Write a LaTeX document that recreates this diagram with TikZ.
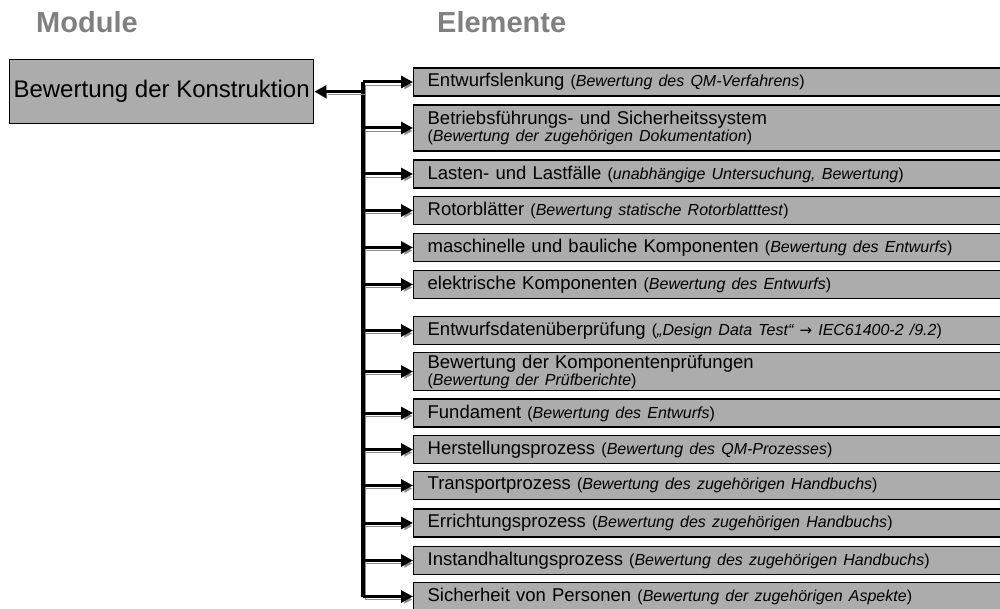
\documentclass[tikz,border=0pt]{standalone}
\usepackage{fontspec}
\setmainfont{Liberation Sans}
\newfontfamily\pfeilschrift{DejaVu Sans}
\usetikzlibrary{arrows.meta}

\definecolor{boxgrau}{RGB}{172,172,172}
\definecolor{kopfgrau}{RGB}{128,128,128}
\definecolor{schattengrau}{RGB}{140,140,140}

\newcommand{\erl}[1]{{\fontsize{16}{17}\selectfont(\textit{#1})}}

\begin{document}
\begin{tikzpicture}[x=1pt,y=-1pt,
    kopf/.style={text=kopfgrau, anchor=base west, inner sep=0pt,
        font=\bfseries\fontsize{29}{30}\selectfont},
    modul/.style={draw=black, line width=1.3pt, fill=boxgrau, anchor=north west,
        minimum width=304, minimum height=64, inner sep=0pt,
        font=\fontsize{24}{26}\selectfont},
    element/.style={draw=black, line width=1.3pt, fill=boxgrau, anchor=west,
        minimum height=28, text width=572, inner xsep=14, inner ysep=2,
        align=left, font=\fontsize{18.5}{17}\selectfont},
    schatten/.style={preaction={draw=schattengrau,
        transform canvas={shift={(2pt,-3pt)}}}},
    pfeil/.style={schatten, line width=3pt,
        -{Triangle[length=12pt,width=12pt]}},
    stamm/.style={schatten, line width=4pt}]
                 \useasboundingbox (0,0) rectangle (1000,609);
                 \clip (0,0) rectangle (1000,609);
                 % Ueberschriften
                 \node[kopf] (module) at (36,33) {Module};
                 \node[kopf] (elemente) at (437,33) {Elemente};
                 % Modul
                 \node[modul] (konstruktion) at (9,59) {Bewertung der Konstruktion};
                 % Elemente
                 \node[element] (e1) at (413,82) {Entwurfslenkung \erl{Bewertung des QM-Verfahrens}};
                 \node[element, minimum height=46] (e2) at (413,128) {Betriebsführungs- und Sicherheitssystem\\\erl{Bewertung der zugehörigen Dokumentation}};
                 \node[element] (e3) at (413,174) {Lasten- und Lastfälle \erl{unabhängige Untersuchung, Bewertung}};
                 \node[element] (e4) at (413,210.5) {Rotorblätter \erl{Bewertung statische Rotorblatttest}};
                 \node[element] (e5) at (413,247.5) {maschinelle und bauliche Komponenten \erl{Bewertung des Entwurfs}};
                 \node[element] (e6) at (413,284.5) {elektrische Komponenten \erl{Bewertung des Entwurfs}};
                 \node[element] (e7) at (413,330.5) {Entwurfsdatenüberprüfung {\fontsize{16}{17}\selectfont(\textit{„Design Data Test“ {\pfeilschrift\fontsize{15}{17}\selectfont →} IEC61400-2 /9.2})}};
                 \node[element, minimum height=37] (e8) at (413,371.5) {Bewertung der Komponentenprüfungen\\\erl{Bewertung der Prüfberichte}};
                 \node[element] (e9) at (413,413) {Fundament \erl{Bewertung des Entwurfs}};
                 \node[element] (e10) at (413,449.5) {Herstellungsprozess \erl{Bewertung des QM-Prozesses}};
                 \node[element] (e11) at (413,485.5) {Transportprozess \erl{Bewertung des zugehörigen Handbuchs}};
                 \node[element] (e12) at (413,523) {Errichtungsprozess \erl{Bewertung des zugehörigen Handbuchs}};
                 \node[element] (e13) at (413,560.5) {Instandhaltungsprozess \erl{Bewertung des zugehörigen Handbuchs}};
                 \node[element] (e14) at (413,596.5) {Sicherheit von Personen \erl{Bewertung der zugehörigen Aspekte}};
                 % Verbindungen
                 \coordinate (oben) at (363,82);
                 \coordinate (unten) at (363,596.5);
                 \draw[stamm] (oben) -- (unten);
                 \draw[pfeil] (oben |- konstruktion.east) -- (konstruktion.east);
                 \draw[pfeil] (oben |- e1.west) -- (e1.west);
                 \draw[pfeil] (oben |- e2.west) -- (e2.west);
                 \draw[pfeil] (oben |- e3.west) -- (e3.west);
                 \draw[pfeil] (oben |- e4.west) -- (e4.west);
                 \draw[pfeil] (oben |- e5.west) -- (e5.west);
                 \draw[pfeil] (oben |- e6.west) -- (e6.west);
                 \draw[pfeil] (oben |- e7.west) -- (e7.west);
                 \draw[pfeil] (oben |- e8.west) -- (e8.west);
                 \draw[pfeil] (oben |- e9.west) -- (e9.west);
                 \draw[pfeil] (oben |- e10.west) -- (e10.west);
                 \draw[pfeil] (oben |- e11.west) -- (e11.west);
                 \draw[pfeil] (oben |- e12.west) -- (e12.west);
                 \draw[pfeil] (oben |- e13.west) -- (e13.west);
                 \draw[pfeil] (oben |- e14.west) -- (e14.west);
            \end{tikzpicture}
\end{document}
